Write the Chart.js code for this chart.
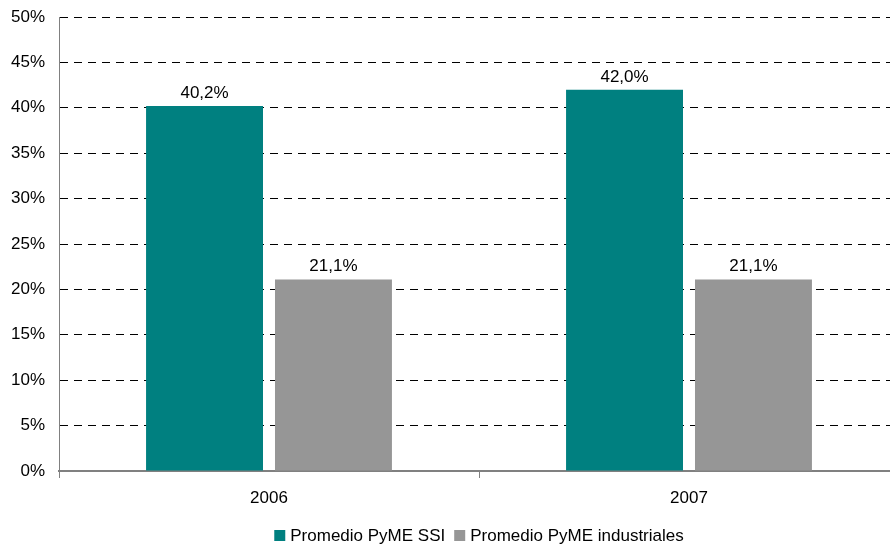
<!DOCTYPE html>
<html>
<head>
<meta charset="utf-8">
<script src="https://cdn.jsdelivr.net/npm/chart.js@4"></script>
<style>
  html, body { margin: 0; padding: 0; background: #fff; overflow: hidden; }
  #wrap { width: 890px; height: 544px; overflow: hidden; position: relative; }
  canvas { display: block; }
</style>
</head>
<body>
<div id="wrap"><canvas id="c" width="899" height="544"></canvas></div>
<script>
const categories = ['2006', '2007'];
const seriesNames = ['Promedio PyME SSI', 'Promedio PyME industriales'];
const ssiValues = [40.2, 42.0];
const industrialValues = [21.1, 21.1];
const yTicks = [0, 5, 10, 15, 20, 25, 30, 35, 40, 45, 50];
const seriesColors = ['#008080', '#969696'];

const FONT = '"Liberation Sans", Arial, Helvetica, sans-serif';
const FS = 17;

function fmt(v) { return v.toFixed(1).replace('.', ',') + '%'; }

const labelPlugin = {
  id: 'valueLabels',
  afterDatasetsDraw(chart) {
    const ctx = chart.ctx;
    ctx.save();
    ctx.font = FS + 'px ' + FONT;
    ctx.fillStyle = '#000';
    ctx.textAlign = 'center';
    ctx.textBaseline = 'alphabetic';
    chart.data.datasets.forEach((ds, i) => {
      const meta = chart.getDatasetMeta(i);
      meta.data.forEach((bar, j) => {
        ctx.fillText(fmt(ds.data[j]), bar.x, bar.y - 8);
      });
    });
    ctx.restore();
  }
};

const legendPlugin = {
  id: 'customLegend',
  afterDraw(chart) {
    const ctx = chart.ctx;
    ctx.save();
    ctx.font = FS + 'px ' + FONT;
    const ds = chart.data.datasets;
    const widths = ds.map(d => 16 + ctx.measureText(d.label).width);
    const gap = 9;
    const total = widths.reduce((a, b) => a + b, 0) + gap * (ds.length - 1);
    const center = (chart.chartArea.left + chart.chartArea.right) / 2;
    let x = center - total / 2;
    ds.forEach((d, i) => {
      ctx.fillStyle = d.backgroundColor;
      ctx.fillRect(x, 530, 11, 11);
      ctx.fillStyle = '#000';
      ctx.textBaseline = 'alphabetic';
      ctx.textAlign = 'left';
      ctx.fillText(d.label, x + 16, 541);
      x += widths[i] + gap;
    });
    ctx.restore();
  }
};

new Chart(document.getElementById('c'), {
  type: 'bar',
  data: {
    labels: categories,
    datasets: [
      { label: seriesNames[0], data: ssiValues, backgroundColor: seriesColors[0] },
      { label: seriesNames[1], data: industrialValues, backgroundColor: seriesColors[1] }
    ]
  },
  options: {
    responsive: false,
    animation: false,
    devicePixelRatio: 1,
    layout: { padding: { top: 17, right: 0, bottom: 0, left: 0 } },
    datasets: { bar: { categoryPercentage: 0.614, barPercentage: 0.907 } },
    plugins: {
      legend: { display: false },
      tooltip: { enabled: false }
    },
    scales: {
      x: {
        afterFit(s) { s.height = 73; s.paddingLeft = 0; s.paddingRight = 0; },
        grid: {
          drawOnChartArea: false,
          drawTicks: true,
          tickLength: 7,
          color: '#808080',
          lineWidth: 1,
          offset: true
        },
        border: { display: true, color: '#808080', width: 2 },
        ticks: {
          color: '#000',
          padding: 10,
          font: { family: FONT, size: FS }
        }
      },
      y: {
        min: 0,
        max: 50,
        afterFit(s) { s.width = 59; s.paddingTop = 0; s.paddingBottom = 0; },
        afterBuildTicks(s) { s.ticks = yTicks.map(v => ({ value: v })); },
        grid: {
          drawTicks: false,
          color: '#000',
          lineWidth: 1
        },
        border: { display: true, color: '#808080', width: 1, dash: [8, 6] },
        ticks: {
          color: '#000',
          padding: 14,
          font: { family: FONT, size: FS },
          callback: v => v + '%'
        }
      }
    }
  },
  plugins: [labelPlugin, legendPlugin]
});
</script>
</body>
</html>
